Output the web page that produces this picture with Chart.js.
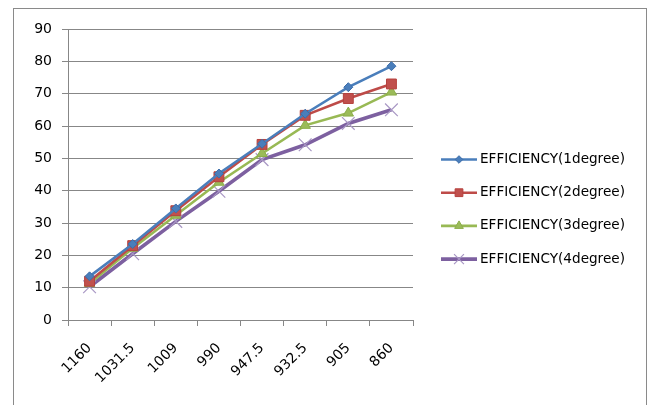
<!DOCTYPE html>
<html>
<head>
<meta charset="utf-8">
<script src="https://cdn.jsdelivr.net/npm/chart.js@4.4.1/dist/chart.umd.min.js"></script>
<style>
  html, body { margin: 0; padding: 0; background: #fff; overflow: hidden; }
  #wrap { width: 651px; height: 405px; position: relative; }
</style>
</head>
<body>
<div id="wrap"><canvas id="c" width="651" height="405"></canvas></div>
<script>
// Categories along the x axis
const categories = ['1160', '1031.5', '1009', '990', '947.5', '932.5', '905', '860'];

// Efficiency values per degree setting
const eff1deg = [13.5, 23.5, 34.5, 45.3, 54.5, 63.8, 72.0, 78.5];
const eff2deg = [12.0, 23.0, 33.8, 44.3, 54.3, 63.3, 68.5, 73.0];
const eff3deg = [11.3, 22.2, 32.4, 42.6, 51.5, 60.2, 64.0, 70.5];
const eff4deg = [10.3, 20.5, 30.5, 39.8, 49.6, 54.2, 60.8, 65.0];

const seriesNames = ['EFFICIENCY(1degree)', 'EFFICIENCY(2degree)', 'EFFICIENCY(3degree)', 'EFFICIENCY(4degree)'];

// Y axis range
const yMin = 0;
const yMax = 90;
const yStep = 10;

const FONT = '"DejaVu Sans", sans-serif';
const GRID = '#878787';

const styles = [
  { line: '#4A7EBB', fill: '#4A7EBB', border: '#3C6DAA', point: 'rectRot', r: 4.5, lr: 3.8, bw: 1, lw: 2.6 },
  { line: '#BE4B48', fill: '#C0504D', border: '#B5403D', point: 'rect', r: 7, lr: 5.5, bw: 1, lw: 2.6 },
  { line: '#98B954', fill: '#9BBB59', border: '#8CAE4A', point: 'triangle', r: 6, lr: 5, bw: 1, lw: 2.6 },
  { line: '#7D60A0', fill: '#A897C4', border: '#A897C4', point: 'crossRot', r: 9, lr: 7, bw: 1.2, lw: 3.6 }
];

const seriesValues = [eff1deg, eff2deg, eff3deg, eff4deg];

const datasets = seriesValues.map((vals, i) => ({
  label: seriesNames[i],
  data: vals,
  borderColor: styles[i].line,
  borderWidth: styles[i].lw,
  backgroundColor: styles[i].fill,
  pointStyle: styles[i].point,
  pointRadius: styles[i].r,
  pointBackgroundColor: styles[i].fill,
  pointBorderColor: styles[i].border,
  pointBorderWidth: styles[i].bw,
  tension: 0,
  fill: false
}));

// Outer frame around the chart
const framePlugin = {
  id: 'frame',
  beforeDraw(chart) {
    const ctx = chart.ctx;
    ctx.save();
    ctx.fillStyle = '#fff';
    ctx.fillRect(0, 0, chart.width, chart.height);
    ctx.strokeStyle = '#8a8a8a';
    ctx.lineWidth = 1;
    ctx.strokeRect(13.5, 8.5, 633, 420);
    ctx.restore();
  }
};

// Legend drawn as line-with-marker samples on the right
const sideLegend = {
  id: 'sideLegend',
  afterDraw(chart) {
    const ctx = chart.ctx;
    const x0 = 441, x1 = 477, tx = 480;
    const yTop = 159.5, gap = 33.2;
    ctx.save();
    chart.data.datasets.forEach((ds, i) => {
      const y = yTop + i * gap;
      const st = styles[i];
      ctx.strokeStyle = st.line;
      ctx.lineWidth = st.lw;
      ctx.beginPath();
      ctx.moveTo(x0, y);
      ctx.lineTo(x1, y);
      ctx.stroke();
      ctx.fillStyle = st.fill;
      ctx.strokeStyle = st.border;
      ctx.lineWidth = st.bw;
      Chart.helpers.drawPoint(ctx, { pointStyle: st.point, radius: st.lr, rotation: 0, borderWidth: st.bw }, (x0 + x1) / 2, y);
      ctx.fillStyle = '#000';
      ctx.font = '13.6px ' + FONT;
      ctx.textAlign = 'left';
      ctx.textBaseline = 'middle';
      ctx.fillText(ds.label, tx, y);
    });
    ctx.restore();
  }
};

new Chart(document.getElementById('c'), {
  type: 'line',
  data: { labels: categories, datasets },
  options: {
    responsive: false,
    animation: false,
    devicePixelRatio: 1,
    layout: { padding: { left: 0, right: 238, top: 29, bottom: 0 } },
    plugins: { legend: { display: false }, tooltip: { enabled: false } },
    scales: {
      x: {
        type: 'category',
        offset: true,
        grid: { offset: true, drawOnChartArea: false, drawTicks: true, tickLength: 6, color: GRID },
        border: { display: true, color: GRID },
        ticks: { color: '#000', font: { family: FONT, size: 14 }, minRotation: 45, maxRotation: 45, padding: 14, autoSkip: false },
        afterFit(s) { s.height = 85; }
      },
      y: {
        min: yMin,
        max: yMax,
        grid: { color: GRID, lineWidth: 1, drawTicks: true, tickLength: 6 },
        border: { display: true, color: GRID },
        ticks: { stepSize: yStep, color: '#000', font: { family: FONT, size: 14 }, padding: 10 },
        afterFit(s) { s.width = 68; }
      }
    }
  },
  plugins: [framePlugin, sideLegend]
});
</script>
</body>
</html>
